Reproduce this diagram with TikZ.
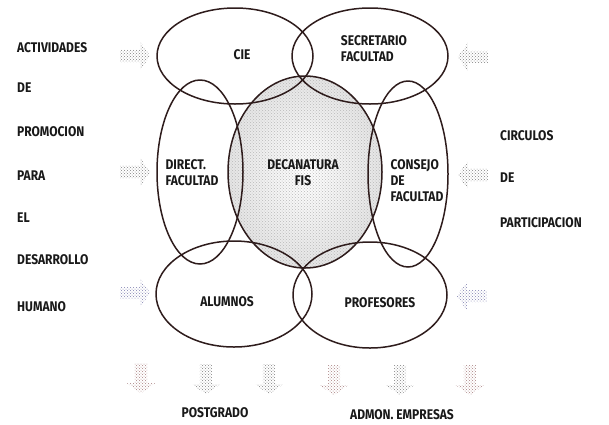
\documentclass[tikz,border=0pt]{standalone}
\usepackage{fontspec}
\setmainfont{Fira Sans}
\newfontfamily\venntype{Fira Sans}[FakeStretch=0.86]
\usetikzlibrary{shapes.geometric,shapes.arrows,patterns,positioning}
\definecolor{rimbrown}{HTML}{2E1C1C}
\definecolor{dotgray}{HTML}{808080}
\definecolor{dotblue}{HTML}{8080B0}
\definecolor{dotred}{HTML}{A88080}
\definecolor{deangray}{HTML}{E4E4E4}

\begin{document}
\begin{tikzpicture}[
  x=1pt,y=-1pt,
  ring/.style={draw=rimbrown,ellipse,line width=1.5pt,inner sep=0pt},
  word/.style={font=\venntype\bfseries\fontsize{14}{16}\selectfont,inner sep=0pt,text=black!90},
  inword/.style={word,align=left},
  pointer/.style={single arrow,draw=none,pattern=crosshatch dots,pattern color=#1,
    minimum height=30pt,inner sep=6pt,single arrow head extend=8pt,
    single arrow tip angle=110}
]
\useasboundingbox (0,0) rectangle (609,424);

\node[ring,minimum width=154pt,minimum height=192pt,
  preaction={shade,inner color=white,outer color=deangray},
  pattern=crosshatch dots,pattern color=gray!55] (decanatura) at (305,172) {};
\node[ring,minimum width=156pt,minimum height=96pt] (cie) at (235,56) {};
\node[ring,minimum width=156pt,minimum height=96pt] (secretario) at (370,56) {};
\node[ring,minimum width=86pt,minimum height=184pt] (direct) at (200,172) {};
\node[ring,minimum width=80pt,minimum height=186pt] (consejo) at (408,174) {};
\node[ring,minimum width=156pt,minimum height=106pt] (alumnos) at (234,294) {};
\node[ring,minimum width=154pt,minimum height=106pt] (profesores) at (370,295) {};

\node[word] (cielbl) at (242,55) {CIE};
\node[inword] (secretariolbl) at (374,49) {SECRETARIO\\FACULTAD};
\node[inword] (directlbl) at (192,173) {DIRECT.\\FACULTAD};
\node[word,align=center] (decanaturalbl) at (303,173) {DECANATURA\\FIS};
\node[inword] (consejolbl) at (417,181) {CONSEJO\\DE\\FACULTAD};
\node[word] (alumnoslbl) at (227,302) {ALUMNOS};
\node[word] (profesoreslbl) at (380,303) {PROFESORES};

\node[word,anchor=west] (actividades) at (17,48) {ACTIVIDADES};
\node[word,anchor=west] (de) at (17,88) {DE};
\node[word,anchor=west] (promocion) at (17,132) {PROMOCION};
\node[word,anchor=west] (para) at (17,176) {PARA};
\node[word,anchor=west] (el) at (17,218) {EL};
\node[word,anchor=west] (desarrollo) at (17,260) {DESARROLLO};
\node[word,anchor=west] (humano) at (17,307) {HUMANO};

\node[word,anchor=west] (circulos) at (500,136) {CIRCULOS};
\node[word,anchor=west] (dedos) at (500,178) {DE};
\node[word,anchor=west] (participacion) at (500,223) {PARTICIPACION};

\node[word] (postgrado) at (215,413) {POSTGRADO};
\node[word] (admon) at (402,415) {ADMON. EMPRESAS};

\node[pointer=dotgray] (inone) at (133,56) {};
\node[pointer=dotgray] (intwo) at (133,172) {};
\node[pointer=dotblue] (inthree) at (133,293) {};
\node[pointer=dotgray,shape border rotate=180] (outone) at (475,57) {};
\node[pointer=dotgray,shape border rotate=180] (outtwo) at (475,175) {};
\node[pointer=dotblue,shape border rotate=180] (outthree) at (474,296) {};

\node[pointer=dotred,shape border rotate=270] (downone) at (141,376) {};
\node[pointer=dotgray,shape border rotate=270] (downtwo) at (206,377) {};
\node[pointer=dotgray,shape border rotate=270] (downthree) at (269,377) {};
\node[pointer=dotred,shape border rotate=270] (downfour) at (334,378) {};
\node[pointer=dotgray,shape border rotate=270] (downfive) at (400,378) {};
\node[pointer=dotred,shape border rotate=270] (downsix) at (470,378) {};
\end{tikzpicture}
\end{document}
